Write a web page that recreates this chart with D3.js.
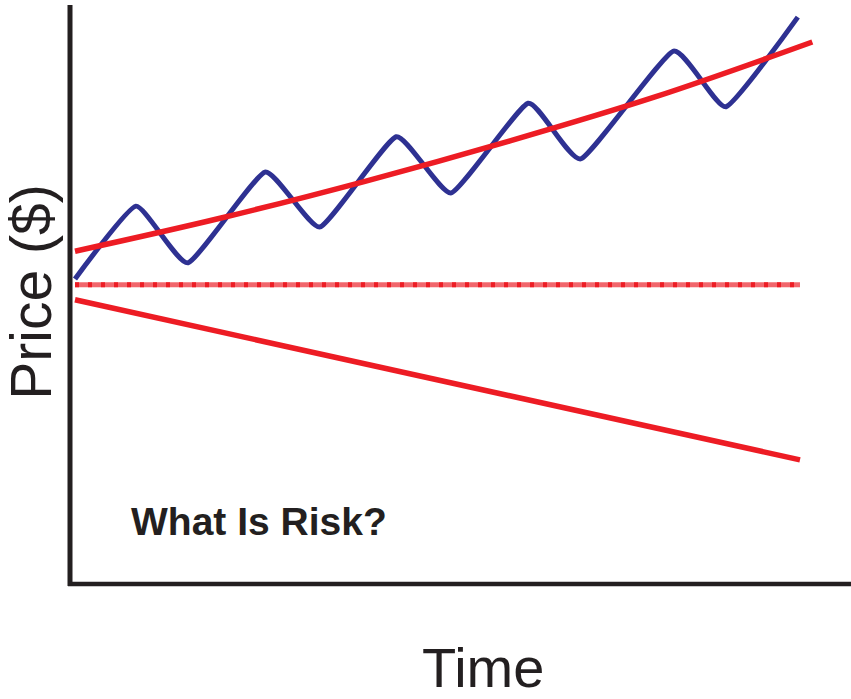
<!DOCTYPE html>
<html>
<head>
<meta charset="utf-8">
<script src="https://cdn.jsdelivr.net/npm/d3@7"></script>
<style>
  body { margin: 0; background: #fff; }
  svg { display: block; font-family: "Liberation Sans", Arial, sans-serif; }
</style>
</head>
<body>
<div id="chart"></div>
<script>
// price path (zig-zag) - turning points
const priceTime = [0, 0.84, 1.56, 2.62, 3.38, 4.43, 5.19, 6.25, 6.98, 8.25, 8.98, 9.97];
const priceValue = [52.6, 65.2, 55.4, 71.1, 61.6, 77.2, 67.5, 83.0, 73.4, 92.0, 82.4, 97.9];

// upward trend
const trendTime = [0, 2, 4, 6, 8, 10.17];
const trendValue = [57.4, 63.1, 69.5, 76.5, 84.1, 93.6];

// flat line and falling line
const flatTime = [0, 10];
const flatValue = [51.6, 51.6];
const downTime = [0, 10];
const downValue = [49.0, 21.3];

const width = 851, height = 699;

const svg = d3.select("#chart")
  .append("svg")
  .attr("width", width)
  .attr("height", height);

const x = d3.scaleLinear().domain([0, 10]).range([75, 800]);
const y = d3.scaleLinear().domain([0, 100]).range([583, 5]);

const line = d3.line()
  .x((d) => x(d[0]))
  .y((d) => y(d[1]));

const zip = (a, b) => a.map((v, i) => [v, b[i]]);

// axes (no ticks, just the two black lines)
svg.append("line")
  .attr("x1", 70).attr("y1", 5)
  .attr("x2", 70).attr("y2", 586)
  .attr("stroke", "#231f20")
  .attr("stroke-width", 5);

svg.append("line")
  .attr("x1", 68).attr("y1", 584)
  .attr("x2", 851).attr("y2", 584)
  .attr("stroke", "#231f20")
  .attr("stroke-width", 4.5);

// flat line: light band + darker dashes
svg.append("path")
  .datum(zip(flatTime, flatValue))
  .attr("d", line)
  .attr("fill", "none")
  .attr("stroke", "#ef4b52")
  .attr("stroke-opacity", 0.85)
  .attr("stroke-width", 5);

svg.append("path")
  .datum(zip(flatTime, flatValue))
  .attr("d", line)
  .attr("fill", "none")
  .attr("stroke", "#ed1c24")
  .attr("stroke-width", 5)
  .attr("stroke-dasharray", "4,9");

// falling line
svg.append("path")
  .datum(zip(downTime, downValue))
  .attr("d", line)
  .attr("fill", "none")
  .attr("stroke", "#ed1c24")
  .attr("stroke-width", 5.5);

// price path - straight runs, rounded turns
svg.append("path")
  .datum(zip(priceTime, priceValue))
  .attr("d", line.curve(d3.curveCardinal.tension(0.55)))
  .attr("fill", "none")
  .attr("stroke", "#2e3192")
  .attr("stroke-width", 5);

// trend line
svg.append("path")
  .datum(zip(trendTime, trendValue))
  .attr("d", line.curve(d3.curveMonotoneX))
  .attr("fill", "none")
  .attr("stroke", "#ed1c24")
  .attr("stroke-width", 5.5);

// labels
svg.append("text")
  .attr("transform", "translate(51,292) rotate(-90)")
  .attr("text-anchor", "middle")
  .attr("font-size", 57)
  .attr("fill", "#231f20")
  .text("Price ($)");

svg.append("text")
  .attr("x", 422)
  .attr("y", 687)
  .attr("font-size", 56)
  .attr("fill", "#231f20")
  .text("Time");

svg.append("text")
  .attr("x", 131)
  .attr("y", 535)
  .attr("font-size", 39)
  .attr("font-weight", "bold")
  .attr("fill", "#231f20")
  .text("What Is Risk?");
</script>
</body>
</html>
